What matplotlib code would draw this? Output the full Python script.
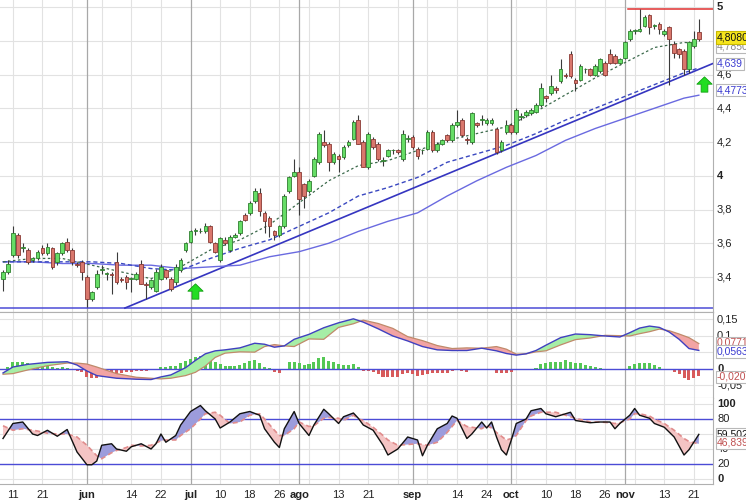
import numpy as np
import pandas as pd
import matplotlib
matplotlib.use('Agg')
import matplotlib.pyplot as plt
from matplotlib.path import Path
from matplotlib.transforms import blended_transform_factory

plt.rcParams['font.family'] = ['Liberation Sans', 'DejaVu Sans']

# ---------------- data ----------------
start_date = '2012-05-09'
n_days = 142

opens = [3.39, 3.43, 3.53, 3.65, 3.57, 3.56, 3.50, 3.51, 3.57, 3.54,
         3.57, 3.49, 3.54, 3.61, 3.56, 3.48, 3.49, 3.40, 3.27, 3.34,
         3.44, 3.42, 3.42, 3.49, 3.39, 3.40, 3.39, 3.39, 3.48, 3.36,
         3.34, 3.32, 3.39, 3.44, 3.39, 3.37, 3.44, 3.56, 3.61, 3.67,
         3.67, 3.67, 3.70, 3.60, 3.50, 3.62, 3.56, 3.64, 3.66, 3.77,
         3.78, 3.85, 3.90, 3.78, 3.75, 3.67, 3.65, 3.70, 3.91, 4.00,
         4.02, 3.95, 3.91, 4.00, 4.08, 4.20, 4.19, 4.08, 4.12, 4.11,
         4.18, 4.22, 4.33, 4.20, 4.05, 4.22, 4.19, 4.09, 4.12, 4.15,
         4.15, 4.10, 4.22, 4.23, 4.16, 4.15, 4.16, 4.26, 4.15, 4.19,
         4.24, 4.21, 4.30, 4.33, 4.22, 4.20, 4.31, 4.33, 4.31, 4.31,
         4.28, 4.15, 4.26, 4.30, 4.26, 4.35, 4.36, 4.37, 4.38, 4.42,
         4.47, 4.49, 4.52, 4.56, 4.60, 4.72, 4.57, 4.57, 4.63, 4.63,
         4.60, 4.62, 4.67, 4.72, 4.71, 4.67, 4.70, 4.81, 4.86, 4.86,
         4.89, 4.95, 4.89, 4.90, 4.84, 4.88, 4.78, 4.75, 4.74, 4.63,
         4.77, 4.85]
highs = [3.44, 3.50, 3.70, 3.66, 3.60, 3.57, 3.52, 3.56, 3.59, 3.60,
         3.58, 3.55, 3.61, 3.63, 3.57, 3.49, 3.50, 3.41, 3.32, 3.44,
         3.47, 3.43, 3.43, 3.55, 3.40, 3.41, 3.40, 3.43, 3.50, 3.37,
         3.39, 3.45, 3.48, 3.45, 3.40, 3.48, 3.51, 3.61, 3.68, 3.69,
         3.69, 3.72, 3.71, 3.61, 3.64, 3.64, 3.65, 3.66, 3.74, 3.78,
         3.85, 3.93, 3.93, 3.79, 3.76, 3.68, 3.71, 3.89, 4.00, 4.10,
         4.05, 3.96, 3.98, 4.11, 4.26, 4.27, 4.20, 4.14, 4.13, 4.18,
         4.21, 4.33, 4.36, 4.21, 4.26, 4.23, 4.20, 4.11, 4.16, 4.16,
         4.16, 4.27, 4.24, 4.24, 4.17, 4.16, 4.27, 4.27, 4.20, 4.22,
         4.25, 4.31, 4.39, 4.34, 4.23, 4.38, 4.32, 4.36, 4.34, 4.34,
         4.29, 4.21, 4.33, 4.31, 4.40, 4.37, 4.39, 4.40, 4.43, 4.55,
         4.48, 4.60, 4.53, 4.69, 4.61, 4.74, 4.58, 4.66, 4.64, 4.64,
         4.66, 4.70, 4.68, 4.75, 4.72, 4.70, 4.80, 4.87, 4.87, 4.99,
         4.95, 4.96, 4.90, 4.91, 4.87, 4.89, 4.80, 4.76, 4.75, 4.80,
         4.86, 4.93]
lows = [3.32, 3.42, 3.52, 3.51, 3.55, 3.48, 3.49, 3.50, 3.53, 3.53,
        3.45, 3.47, 3.53, 3.55, 3.47, 3.46, 3.38, 3.22, 3.26, 3.33,
        3.42, 3.38, 3.30, 3.36, 3.37, 3.33, 3.31, 3.38, 3.36, 3.27,
        3.33, 3.31, 3.38, 3.39, 3.32, 3.35, 3.43, 3.55, 3.60, 3.65,
        3.66, 3.66, 3.60, 3.54, 3.49, 3.59, 3.55, 3.63, 3.65, 3.73,
        3.77, 3.84, 3.76, 3.66, 3.64, 3.62, 3.64, 3.69, 3.90, 3.99,
        3.77, 3.81, 3.90, 3.99, 4.07, 4.17, 4.03, 4.07, 4.02, 4.10,
        4.17, 4.21, 4.19, 4.05, 4.04, 4.16, 4.09, 4.06, 4.11, 4.13,
        4.13, 4.09, 4.20, 4.16, 4.10, 4.13, 4.15, 4.14, 4.14, 4.18,
        4.20, 4.20, 4.29, 4.23, 4.19, 4.19, 4.29, 4.30, 4.30, 4.30,
        4.13, 4.14, 4.25, 4.25, 4.25, 4.33, 4.35, 4.36, 4.37, 4.41,
        4.44, 4.48, 4.49, 4.55, 4.58, 4.58, 4.50, 4.56, 4.61, 4.59,
        4.59, 4.61, 4.59, 4.66, 4.66, 4.66, 4.69, 4.80, 4.84, 4.85,
        4.88, 4.84, 4.87, 4.84, 4.83, 4.54, 4.70, 4.70, 4.60, 4.61,
        4.76, 4.80]
closes = [3.43, 3.48, 3.66, 3.53, 3.58, 3.49, 3.51, 3.55, 3.54, 3.58,
          3.46, 3.54, 3.60, 3.56, 3.49, 3.47, 3.43, 3.27, 3.31, 3.42,
          3.45, 3.42, 3.41, 3.37, 3.38, 3.37, 3.39, 3.42, 3.36, 3.35,
          3.38, 3.43, 3.46, 3.40, 3.33, 3.46, 3.50, 3.60, 3.67, 3.68,
          3.67, 3.70, 3.61, 3.55, 3.63, 3.60, 3.64, 3.65, 3.73, 3.74,
          3.84, 3.91, 3.79, 3.73, 3.70, 3.65, 3.70, 3.88, 3.99, 4.02,
          3.86, 3.88, 3.97, 4.10, 4.25, 4.18, 4.08, 4.13, 4.10, 4.17,
          4.20, 4.32, 4.19, 4.05, 4.25, 4.17, 4.10, 4.09, 4.15, 4.15,
          4.14, 4.25, 4.22, 4.17, 4.12, 4.15, 4.26, 4.15, 4.19, 4.21,
          4.21, 4.30, 4.32, 4.24, 4.21, 4.37, 4.30, 4.33, 4.33, 4.33,
          4.14, 4.20, 4.30, 4.26, 4.39, 4.35, 4.38, 4.39, 4.42, 4.52,
          4.46, 4.53, 4.51, 4.63, 4.59, 4.59, 4.55, 4.65, 4.63, 4.60,
          4.65, 4.69, 4.60, 4.67, 4.67, 4.69, 4.79, 4.86, 4.86, 4.87,
          4.94, 4.88, 4.89, 4.87, 4.86, 4.81, 4.73, 4.72, 4.63, 4.79,
          4.81, 4.808]

# moving averages read at sample trading days
ma_days = [0, 6, 12, 18, 24, 30, 36, 42, 48, 54, 60, 66, 72, 78, 84, 90,
           96, 102, 108, 114, 120, 126, 132, 138, 141]
ma_short = [3.49, 3.51, 3.51, 3.47, 3.43, 3.39, 3.46, 3.56, 3.62, 3.71, 3.84,
            3.97, 4.06, 4.09, 4.15, 4.21, 4.25, 4.29, 4.38, 4.48, 4.58, 4.67,
            4.76, 4.79, 4.785]
ma_mid = [3.49, 3.49, 3.49, 3.49, 3.48, 3.45, 3.44, 3.51, 3.57, 3.62, 3.70,
          3.78, 3.88, 3.93, 3.99, 4.08, 4.13, 4.18, 4.25, 4.33, 4.40, 4.47,
          4.54, 4.61, 4.639]
ma_long = [3.49, 3.49, 3.48, 3.48, 3.47, 3.47, 3.45, 3.46, 3.47, 3.52, 3.55,
           3.60, 3.67, 3.73, 3.78, 3.88, 3.97, 4.05, 4.12, 4.21, 4.28, 4.34,
           4.40, 4.46, 4.4773]

trend_days = [24.7, 144.0]
trend_prices = [3.216, 4.667]
support_price = 3.216
resist_days = [126.6, 144.0]
resist_price = 4.988
signal_days = [39, 142]
signal_prices = [3.317, 4.546]

# MACD (line, signal) at sample days, histogram daily
macd_days = [0, 2, 5, 9, 13, 15, 17, 19, 23, 27, 30, 32, 34, 37, 39, 41, 43, 45,
             48, 51, 53, 55, 57, 59, 62, 65, 68, 71, 73, 76, 79, 82, 85, 88, 91,
             94, 97, 100, 102, 104, 106, 108, 110, 113, 116, 119, 122, 125, 127,
             129, 131, 133, 135, 137, 139, 141]
macd_line = [-0.012, 0.006, 0.014, 0.020, 0.022, 0.012, -0.006, -0.020, -0.028,
             -0.031, -0.032, -0.024, -0.018, 0.004, 0.026, 0.046, 0.055, 0.058,
             0.064, 0.078, 0.075, 0.066, 0.070, 0.090, 0.105, 0.125, 0.140, 0.152,
             0.142, 0.122, 0.100, 0.085, 0.068, 0.058, 0.056, 0.056, 0.063, 0.055,
             0.047, 0.042, 0.046, 0.056, 0.072, 0.095, 0.106, 0.104, 0.100, 0.097,
             0.110, 0.124, 0.130, 0.126, 0.112, 0.090, 0.062, 0.0563]
macd_signal = [-0.016, -0.014, -0.003, 0.010, 0.018, 0.018, 0.015, 0.006, -0.014,
               -0.025, -0.028, -0.030, -0.028, -0.020, -0.010, 0.009, 0.035, 0.048,
               0.052, 0.051, 0.068, 0.074, 0.070, 0.068, 0.091, 0.090, 0.126, 0.137,
               0.148, 0.138, 0.123, 0.098, 0.086, 0.071, 0.062, 0.064, 0.063, 0.068,
               0.060, 0.045, 0.046, 0.052, 0.055, 0.073, 0.089, 0.094, 0.102, 0.101,
               0.100, 0.107, 0.113, 0.121, 0.116, 0.106, 0.095, 0.0771]
macd_hist = [0.0, 0.007, 0.022, 0.022, 0.020, 0.017, 0.014, 0.012, 0.012, 0.010,
             0.007, 0.004, 0.007, 0.004, 0.001, -0.006, -0.008, -0.023, -0.028, -0.026,
             -0.020, -0.018, -0.016, -0.014, -0.013, -0.010, -0.008, -0.006, -0.006, -0.006,
             -0.004, 0.001, 0.007, 0.007, 0.010, 0.010, 0.017, 0.024, 0.030, 0.036,
             0.040, 0.037, 0.032, 0.020, 0.014, 0.010, 0.009, 0.009, 0.012, 0.017,
             0.024, 0.027, 0.017, 0.007, 0.002, -0.008, -0.013, 0.001, 0.020, 0.022,
             0.017, 0.012, 0.014, 0.022, 0.032, 0.035, 0.024, 0.022, 0.014, 0.012,
             0.012, 0.015, 0.005, -0.006, -0.006, -0.008, -0.016, -0.023, -0.023, -0.023,
             -0.023, -0.016, -0.013, -0.016, -0.020, -0.018, -0.016, -0.013, -0.013, -0.013,
             -0.011, -0.006, -0.001, -0.006, -0.008, 0.0, 0.0, 0.0, 0.0, -0.001,
             -0.013, -0.013, -0.013, -0.008, -0.003, -0.003, 0.0, 0.001, 0.004, 0.014,
             0.017, 0.020, 0.020, 0.022, 0.027, 0.022, 0.017, 0.017, 0.012, 0.010,
             0.007, 0.004, -0.002, -0.003, -0.003, -0.004, 0.0, 0.010, 0.014, 0.017,
             0.019, 0.017, 0.012, 0.005, 0.0, -0.004, -0.010, -0.016, -0.028, -0.033,
             -0.028, -0.021]

# Stochastic %K / %D at sample days
stoch_days = [0, 2, 4, 6, 7, 9, 11, 13, 14, 15, 17, 18, 19, 20, 22, 23, 25, 26, 28,
              30, 31, 32, 33, 35, 36, 38, 40, 41, 43, 44, 46, 48, 50, 52, 53, 55, 56,
              57, 59, 60, 62, 63, 65, 66, 68, 69, 71, 72, 73, 75, 77, 78, 80, 82, 84,
              85, 86, 88, 90, 91, 92, 94, 95, 97, 98, 99, 100, 101, 102, 103, 104,
              106, 107, 109, 110, 112, 115, 116, 119, 121, 123, 124, 125, 127, 128,
              129, 131, 132, 134, 136, 138, 139, 141]
stoch_k = [54, 74, 76, 60, 58, 65, 57, 66, 51, 36, 19, 19, 24, 45, 47, 40, 37, 43, 47,
           40, 47, 60, 49, 58, 72, 90, 98, 91, 80, 68, 76, 87, 90, 85, 67, 49, 42,
           67, 90, 74, 58, 72, 93, 87, 74, 83, 88, 81, 72, 65, 45, 32, 40, 56, 52,
           31, 45, 67, 74, 84, 81, 54, 60, 76, 68, 76, 56, 39, 32, 52, 74,
           80, 91, 94, 87, 83, 89, 78, 75, 76, 76, 67, 74, 85, 94,
           85, 81, 74, 69, 56, 32, 39, 59.502]
stoch_d = [71, 65, 67, 65, 64, 61, 60, 60, 58, 56, 45, 38, 31, 27, 35, 38, 42, 45, 44,
           45, 48, 51, 52, 52, 58, 67, 80, 87, 89, 85, 74, 76, 85, 87, 80, 65, 58,
           58, 67, 76, 70, 71, 81, 82, 81, 78, 85, 80, 78, 69, 58, 52, 45, 46, 47,
           46, 45, 49, 62, 70, 78, 70, 69, 67, 71, 68, 62, 57, 52, 54, 58,
           78, 84, 89, 89, 89, 83, 81, 76, 76, 75, 74, 75, 80, 87,
           87, 84, 80, 74, 65, 54, 50, 46.839]

tick_dates = ['2012-05-11', '2012-05-21', '2012-06-01', '2012-06-14', '2012-06-22',
              '2012-07-02', '2012-07-10', '2012-07-18', '2012-07-26', '2012-08-01',
              '2012-08-13', '2012-08-21', '2012-09-03', '2012-09-14', '2012-09-24',
              '2012-10-01', '2012-10-10', '2012-10-18', '2012-10-26', '2012-11-01',
              '2012-11-13', '2012-11-21']
tick_labels = ['11', '21', 'jun', '14', '22', 'jul', '10', '18', '26', 'ago', '13',
               '21', 'sep', '14', '24', 'oct', '10', '18', '26', 'nov', '13', '21']
month_labels = ['jun', 'jul', 'ago', 'sep', 'oct', 'nov']
extra_grid_dates = ['2012-05-29', '2012-06-06', '2012-08-03', '2012-08-29',
                    '2012-09-06', '2012-10-02', '2012-11-05']

# grid levels and the right-hand labels that the reference leaves visible
price_grid = [5.0, 4.8, 4.6, 4.4, 4.2, 4.0, 3.8, 3.6, 3.4]
price_ticks = [5.0, 4.6, 4.4, 4.2, 4.0, 3.8, 3.6, 3.4]
price_tick_labels = ['5', '4,6', '4,4', '4,2', '4', '3,8', '3,6', '3,4']
macd_grid = [0.15, 0.1, 0.05, -0.05]
macd_ticks = [0.15, 0.1, 0.0, -0.05]
macd_tick_labels = ['0,15', '0,1', '0', '-0,05']
stoch_grid = [100, 60, 40, 0]
stoch_ticks = [100, 80, 40, 20, 0]
stoch_tick_labels = ['100', '80', '40', '20', '0']

# ---------------- layout ----------------
dates = pd.bdate_range(start_date, periods=n_days)
x = np.arange(n_days)
def day_of(d):
    return int(dates.searchsorted(pd.Timestamp(d)))

W, H = 746, 500
RIGHT = 713
def frame(top_px, bot_px):
    return [0, 1 - bot_px / H, RIGHT / W, (bot_px - top_px) / H]

fig = plt.figure(figsize=(W / 100, H / 100), dpi=100)
fig.patch.set_facecolor('white')
ax_p = fig.add_axes(frame(0, 312))
ax_m = fig.add_axes(frame(312, 398))
ax_s = fig.add_axes(frame(398, 484))

XLIM = (-0.61, 143.87)
GRID_L = '#e2e2e2'
GRID_M = '#a8a8a8'
BLUE = '#4b4bd6'
FS = 8
FSB = 7.5

tick_x = [day_of(d) for d in tick_dates]
month_x = [tx for tx, lab in zip(tick_x, tick_labels) if lab in month_labels]
light_x = [tx for tx, lab in zip(tick_x, tick_labels) if lab not in month_labels] + \
          [day_of(d) for d in extra_grid_dates]

for ax in (ax_p, ax_m, ax_s):
    ax.set_xlim(*XLIM)
    ax.set_facecolor('white')
    for xx in light_x:
        ax.axvline(xx, color=GRID_L, lw=0.8, zorder=0)
    for xx in month_x:
        ax.axvline(xx, color=GRID_M, lw=0.9, zorder=0.5)
    for s in ('left', 'top'):
        ax.spines[s].set_visible(False)
    for s in ('right', 'bottom'):
        ax.spines[s].set_color('#b0b0b0')
        ax.spines[s].set_linewidth(0.8)
    ax.set_yticks([])
    ax.tick_params(axis='x', length=0)
ax_m.spines['top'].set_visible(True)
ax_m.spines['top'].set_color('#b0b0b0')
ax_m.spines['top'].set_linewidth(0.8)
ax_p.set_xticks([])
ax_m.set_xticks([])

def rlabel(ax, y, text, bold=False, color='#222222'):
    tr = blended_transform_factory(ax.transAxes, ax.transData)
    ax.text(1 + 4 / RIGHT, y, text, transform=tr, ha='left', va='center',
            fontsize=FS, fontweight='bold' if bold else 'normal', color=color,
            clip_on=False, zorder=5)

def vbox(ax, y, text, color, face='white', edge='#b8b8b8'):
    tr = blended_transform_factory(ax.transAxes, ax.transData)
    ax.text(1 + 4 / RIGHT, y, text, transform=tr, ha='left', va='center',
            fontsize=FSB, color=color, clip_on=False, zorder=20,
            bbox=dict(boxstyle='square,pad=0.12', fc=face, ec=edge, lw=0.8))

# ---------------- price panel ----------------
ax_p.set_ylim(3.1926, 5.0415)
for v in price_grid:
    ax_p.axhline(v, color=GRID_L, lw=0.8, zorder=0)

ax_p.axhline(support_price, color=BLUE, lw=1.1, zorder=2)
ax_p.plot(trend_days, trend_prices, color='#3535c0', lw=1.2, zorder=2)
ax_p.plot(resist_days, [resist_price, resist_price], color='#e03030', lw=1.1, zorder=2)
ax_p.plot(ma_days, ma_long, color='#6a6ae0', lw=1.0, zorder=2)
ax_p.plot(ma_days, ma_mid, color='#3a48c0', lw=1.0, ls=(0, (3, 2)), zorder=2)
ax_p.plot(ma_days, ma_short, color='#3c6a4c', lw=0.9, ls=(0, (2, 2)), zorder=2)

o = np.array(opens); h = np.array(highs); l = np.array(lows); c = np.array(closes)
up = c >= o
body_lo = np.minimum(o, c)
body_h = np.maximum(np.abs(c - o), 0.004)
ax_p.vlines(x, l, h, color='#3a3a3a', lw=0.8, zorder=3)
ax_p.bar(x[up], body_h[up], bottom=body_lo[up], width=0.74, color='#66dd66',
         edgecolor='#2f7f2f', lw=0.6, zorder=4)
ax_p.bar(x[~up], body_h[~up], bottom=body_lo[~up], width=0.74, color='#d9776c',
         edgecolor='#8a3a34', lw=0.6, zorder=4)

arrow_marker = Path([(-0.22, -0.5), (0.22, -0.5), (0.22, 0.02), (0.5, 0.02),
                     (0.0, 0.5), (-0.5, 0.02), (-0.22, 0.02), (-0.22, -0.5)],
                    closed=True)
ax_p.plot(signal_days, signal_prices, ls='none', marker=arrow_marker, ms=11,
          mfc='#22dd22', mec='#11a011', mew=0.6, zorder=6, clip_on=False)

for v, lab in zip(price_ticks, price_tick_labels):
    rlabel(ax_p, v, lab, bold=lab in ('5', '4'))
vbox(ax_p, ma_short[-1] - 0.022, '4,7850', '#888888')
vbox(ax_p, closes[-1] + 0.012, '4,8080', '#111111', face='#f6e61e', edge='#c8b800')
vbox(ax_p, ma_mid[-1] + 0.024, '4,639', '#3a3ad0')
vbox(ax_p, ma_long[-1] + 0.03, '4,4773', '#3a3ad0')

# ---------------- MACD panel ----------------
ax_m.set_ylim(-0.0879, 0.1727)
for v in macd_grid:
    ax_m.axhline(v, color=GRID_L, lw=0.8, zorder=0)
hist = np.array(macd_hist)
ax_m.bar(x[hist >= 0], hist[hist >= 0], width=0.62, color='#55c855', zorder=2)
ax_m.bar(x[hist < 0], hist[hist < 0], width=0.62, color='#d85a5a', zorder=2)
ax_m.axhline(0, color=BLUE, lw=1.0, zorder=3)
md = np.array(macd_days); ml = np.array(macd_line); ms = np.array(macd_signal)
ax_m.fill_between(md, ml, ms, where=ml >= ms, interpolate=True, color='#a6eea6', lw=0, zorder=3)
ax_m.fill_between(md, ml, ms, where=ml < ms, interpolate=True, color='#f2a4a4', lw=0, zorder=3)
ax_m.plot(md, ms, color='#c08a6a', lw=0.9, zorder=4)
ax_m.plot(md, ml, color='#4040c0', lw=1.0, zorder=4)
for v, lab in zip(macd_ticks, macd_tick_labels):
    rlabel(ax_m, v, lab, bold=lab == '0')
vbox(ax_m, macd_signal[-1] + 0.002, '0,0771', '#c05050')
vbox(ax_m, macd_line[-1] - 0.003, '0,0563', '#3a3ad0')
vbox(ax_m, macd_hist[-1] - 0.003, '-0,020', '#c05050')

# ---------------- Stochastic panel ----------------
ax_s.set_ylim(-6.67, 108)
for v in stoch_grid:
    ax_s.axhline(v, color=GRID_L, lw=0.8, zorder=0)
ax_s.axhline(80, color=BLUE, lw=1.0, zorder=1)
ax_s.axhline(20, color=BLUE, lw=1.0, zorder=1)
sd = np.array(stoch_days); sk = np.array(stoch_k, float); sdd = np.array(stoch_d, float)
ax_s.fill_between(sd, sk, sdd, where=sk >= sdd, interpolate=True, color='#9c9cdc', lw=0, zorder=2)
ax_s.fill_between(sd, sk, sdd, where=sk < sdd, interpolate=True, color='#f4c4c4', lw=0, zorder=2)
ax_s.plot(sd, sdd, color='#e08c8c', lw=1.2, ls=(0, (3, 2)), zorder=3)
ax_s.plot(sd, sk, color='#111111', lw=1.0, zorder=4)
for v, lab in zip(stoch_ticks, stoch_tick_labels):
    rlabel(ax_s, v, lab, bold=lab in ('100', '0'))
vbox(ax_s, stoch_k[-1], '59,502', '#111111')
vbox(ax_s, stoch_d[-1] + 1.5, '46,839', '#c05050')

ax_s.set_xticks(tick_x)
ax_s.set_xticklabels(tick_labels, fontsize=FS)
ax_s.tick_params(axis='x', pad=4, colors='#222222')
for t in ax_s.get_xticklabels():
    if t.get_text() in month_labels:
        t.set_fontweight('bold')

fig.savefig('out.png', dpi=100, facecolor='white')
